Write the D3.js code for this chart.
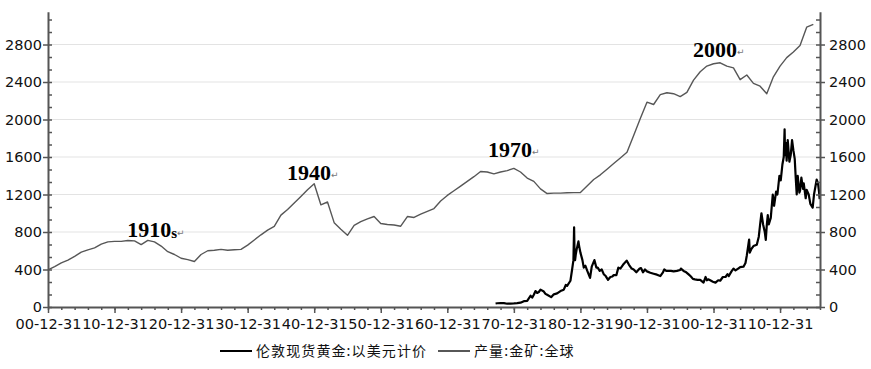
<!doctype html>
<html lang="zh">
<head>
<meta charset="utf-8">
<title>伦敦现货黄金与全球金矿产量</title>
<script src="https://cdnjs.cloudflare.com/ajax/libs/d3/7.8.5/d3.min.js"></script>
<style>
    body { margin: 0; background: #fff; }
    #chart text { font-family: "DejaVu Sans", Verdana, sans-serif; fill: #111; }
    #chart .axis path.domain, #chart .axis line { stroke: #555; }
    #chart .axis path.domain { stroke-width: 2; }
    #chart .axis line { stroke-width: 1.5; }
    #chart .grid line { stroke: #e3e3e3; stroke-width: 1; }
    #chart .note { font-family: "Liberation Serif", "Times New Roman", serif; font-weight: bold; fill: #000; }
    #chart .legend text { font-family: "Noto Sans CJK SC", sans-serif; font-size: 14px; }
</style>
</head>
<body>
<div id="chart"></div>
<script>

// 产量:金矿:全球 (annual)
var prodYears = d3.range(1900, 2016);
var prodValues = [
    395, 430, 470, 500, 540, 585, 610, 630, 670, 695,
    700, 700, 710, 705, 665, 710, 695, 650, 590, 560,
    520, 505, 485, 560, 600, 605, 615, 605, 610, 615,
    660, 715, 770, 820, 860, 980, 1040, 1110, 1180, 1250,
    1315, 1090, 1120, 900, 830, 765, 870, 910, 940, 965,
    890, 880, 875, 862, 965, 955, 990, 1020, 1050, 1130,
    1190, 1240, 1290, 1340, 1390, 1445, 1440, 1420, 1440, 1455,
    1478, 1440, 1375, 1340, 1260, 1210, 1215, 1215, 1218, 1220,
    1222, 1290, 1360, 1410, 1470, 1530, 1590, 1650, 1830, 2010,
    2185, 2160, 2265, 2285, 2275, 2245, 2290, 2420, 2510, 2570,
    2595, 2605, 2570, 2550, 2425, 2475, 2385, 2355, 2275, 2455,
    2570, 2660, 2720, 2790, 2985, 3015
];

// 伦敦现货黄金:以美元计价 (decimal year, USD)
var priceTimes = [
    1968.25, 1968.5, 1969.0, 1969.5, 1970.0, 1970.5, 1971.0, 1971.5, 1972.0, 1972.5,
    1973.0, 1973.5, 1973.75, 1974.0, 1974.25, 1974.5, 1974.75, 1975.0, 1975.5, 1975.75,
    1976.0, 1976.6, 1977.0, 1977.5, 1978.0, 1978.5, 1978.8, 1979.0, 1979.5, 1979.75,
    1979.95, 1980.05, 1980.1, 1980.2, 1980.3, 1980.45, 1980.7, 1980.8, 1981.0, 1981.3,
    1981.5, 1981.75, 1982.0, 1982.45, 1982.7, 1983.1, 1983.4, 1983.6, 1983.9, 1984.2,
    1984.5, 1984.8, 1985.15, 1985.5, 1985.8, 1986.0, 1986.4, 1986.7, 1987.0, 1987.4,
    1987.95, 1988.3, 1988.7, 1989.0, 1989.4, 1989.9, 1990.1, 1990.4, 1990.7, 1991.0,
    1991.5, 1992.0, 1992.5, 1993.0, 1993.4, 1993.6, 1993.9, 1994.2, 1994.6, 1995.0,
    1995.5, 1996.0, 1996.1, 1996.5, 1996.9, 1997.3, 1997.6, 1997.9, 1998.2, 1998.6,
    1999.0, 1999.5, 1999.8, 2000.0, 2000.2, 2000.5, 2000.9, 2001.3, 2001.7, 2002.0,
    2002.4, 2002.8, 2003.1, 2003.3, 2003.7, 2004.0, 2004.3, 2004.7, 2005.0, 2005.5,
    2005.8, 2006.0, 2006.35, 2006.45, 2006.7, 2007.0, 2007.5, 2007.8, 2008.0, 2008.2,
    2008.45, 2008.7, 2008.85, 2009.0, 2009.15, 2009.3, 2009.6, 2009.9, 2010.1, 2010.4,
    2010.6, 2010.9, 2011.1, 2011.35, 2011.55, 2011.68, 2011.75, 2011.85, 2011.99, 2012.15,
    2012.4, 2012.6, 2012.8, 2013.0, 2013.2, 2013.35, 2013.5, 2013.65, 2013.9, 2014.0,
    2014.2, 2014.45, 2014.55, 2014.85, 2015.0, 2015.3, 2015.55, 2015.9, 2016.1, 2016.3,
    2016.5, 2016.7, 2016.85, 2016.95
];
var priceValues = [
    37, 40, 42, 41, 35, 36, 38, 41, 46, 62,
    65, 120, 100, 130, 170, 150, 160, 185, 165, 140,
    130, 105, 135, 145, 170, 185, 235, 225, 280, 400,
    500, 850, 640, 500, 560, 620, 700, 650, 580, 500,
    420, 440, 390, 310, 430, 500, 420, 420, 385, 400,
    350, 330, 290, 320, 325, 340, 340, 420, 410, 450,
    495, 450, 410, 400, 370, 410, 415, 370, 400, 380,
    365, 355, 345, 330, 370, 400, 385, 385, 385, 380,
    385, 395, 410, 385, 370, 345, 325, 300, 295, 290,
    290, 260, 320, 285, 295, 285, 270, 260, 285, 280,
    320, 320, 350, 330, 380, 410, 390, 410, 425, 430,
    470, 550, 720, 580, 620, 650, 665, 750, 880, 1000,
    880, 800, 715, 870, 980, 880, 950, 1200, 1080, 1230,
    1200, 1400, 1350, 1520, 1600, 1895, 1620, 1750, 1560, 1780,
    1550, 1620, 1780, 1670, 1580, 1380, 1200, 1400, 1220, 1240,
    1380, 1260, 1320, 1160, 1250, 1200, 1100, 1060, 1200, 1280,
    1360, 1320, 1230, 1150
];

// axis ticks
var yTicks = [0, 400, 800, 1200, 1600, 2000, 2400, 2800];
var xTickYears = d3.range(1900, 2011, 10);
var seriesNames = ["伦敦现货黄金:以美元计价", "产量:金矿:全球"];
var notes = [
    { text: "1910", sub: "s", year: 1911.9, value: 744 },
    { text: "1940", sub: "", year: 1935.9, value: 1352 },
    { text: "1970", sub: "", year: 1966.1, value: 1597 },
    { text: "2000", sub: "", year: 1996.9, value: 2664 }
];

var width = 871, height = 369;
var left = 48, right = 820, bottom = 307;

function yearEnd(y) { return new Date(y, 11, 31); }
function fromDecimal(t) {
    var y = Math.floor(t);
    var start = new Date(y, 0, 1), end = new Date(y + 1, 0, 1);
    return new Date(+start + (t - y) * (end - start));
}

var x = d3.scaleTime()
    .domain([yearEnd(1900), yearEnd(2016)])
    .range([left, right]);

var y = d3.scaleLinear()
    .domain([0, 3150])
    .range([bottom, 11.7]);

var svg = d3.select("#chart").append("svg")
    .attr("width", width)
    .attr("height", height);

// grid
svg.append("g").attr("class", "grid")
    .selectAll("line")
    .data(yTicks.slice(1))
    .enter().append("line")
    .attr("x1", left).attr("x2", right)
    .attr("y1", function(d) { return y(d); })
    .attr("y2", function(d) { return y(d); });

// production line (gray)
var prod = prodYears.map(function(d, i) { return { date: yearEnd(d), value: prodValues[i] }; });
svg.append("path")
    .datum(prod)
    .attr("fill", "none")
    .attr("stroke", "#575757")
    .attr("stroke-width", 1.4)
    .attr("stroke-linejoin", "round")
    .attr("d", d3.line()
        .x(function(d) { return x(d.date); })
        .y(function(d) { return y(d.value); }));

// price line (black)
var price = priceTimes.map(function(t, i) { return { date: fromDecimal(t), value: priceValues[i] }; });
svg.append("path")
    .datum(price)
    .attr("fill", "none")
    .attr("stroke", "#000")
    .attr("stroke-width", 2.2)
    .attr("stroke-linejoin", "round")
    .attr("d", d3.line()
        .x(function(d) { return x(d.date); })
        .y(function(d) { return y(d.value); }));

// minor ticks on y, inside
var yMinor = d3.range(0, 3150, 400 / 3);
svg.append("g").attr("class", "axis")
    .attr("transform", "translate(" + left + ",0)")
    .call(d3.axisRight(y).tickValues(yMinor).tickSize(4).tickFormat(""))
    .select(".domain").remove();
svg.append("g").attr("class", "axis")
    .attr("transform", "translate(" + right + ",0)")
    .call(d3.axisLeft(y).tickValues(yMinor).tickSize(4).tickFormat(""))
    .select(".domain").remove();

// y axes
var yFormat = d3.format("d");
svg.append("g").attr("class", "axis")
    .attr("transform", "translate(" + left + ",0)")
    .call(d3.axisLeft(y).tickValues(yTicks).tickFormat(yFormat).tickSize(5).tickSizeOuter(0).tickPadding(1));
svg.append("g").attr("class", "axis")
    .attr("transform", "translate(" + right + ",0)")
    .call(d3.axisRight(y).tickValues(yTicks).tickFormat(yFormat).tickSize(5).tickSizeOuter(0).tickPadding(4));
svg.selectAll(".axis text").style("font-size", "14.5px");

// x axis
var xMinor = d3.range(1900, 2017, 2).map(yearEnd);
svg.append("g").attr("class", "axis")
    .attr("transform", "translate(0," + bottom + ")")
    .call(d3.axisBottom(x).tickValues(xMinor).tickSize(3).tickFormat(""))
    .select(".domain").remove();
var xAxis = svg.append("g").attr("class", "axis")
    .attr("transform", "translate(0," + bottom + ")")
    .call(d3.axisBottom(x).tickValues(xTickYears.map(yearEnd)).tickSize(6).tickSizeOuter(0).tickPadding(6)
        .tickFormat(d3.timeFormat("%y-%m-%d")));
xAxis.selectAll("text").style("font-size", "14.5px");

// notes
var note = svg.selectAll(".note")
    .data(notes)
    .enter().append("text")
    .attr("class", "note")
    .attr("x", function(d) { return x(fromDecimal(d.year + 1)); })
    .attr("y", function(d) { return y(d.value); })
    .style("font-size", "22px");
note.append("tspan").text(function(d) { return d.text; });
note.append("tspan").style("font-size", "15px").attr("dy", 1).text(function(d) { return d.sub; });
note.append("tspan")
    .style("font-size", "9px").style("font-weight", "normal")
    .style("font-family", "DejaVu Sans").style("fill", "#777")
    .attr("dy", -2)
    .text("\u21b5");

// legend
var legend = svg.append("g").attr("class", "legend");
var legendX = [220, 438];
var legendColors = ["#000", "#575757"];
seriesNames.forEach(function(name, i) {
    legend.append("line")
        .attr("x1", legendX[i]).attr("x2", legendX[i] + 32)
        .attr("y1", 351).attr("y2", 351)
        .attr("stroke", legendColors[i])
        .attr("stroke-width", 2);
    legend.append("text")
        .attr("x", legendX[i] + 36)
        .attr("y", 356)
        .style("letter-spacing", "1.1px")
        .text(name);
});
</script>
</body>
</html>
